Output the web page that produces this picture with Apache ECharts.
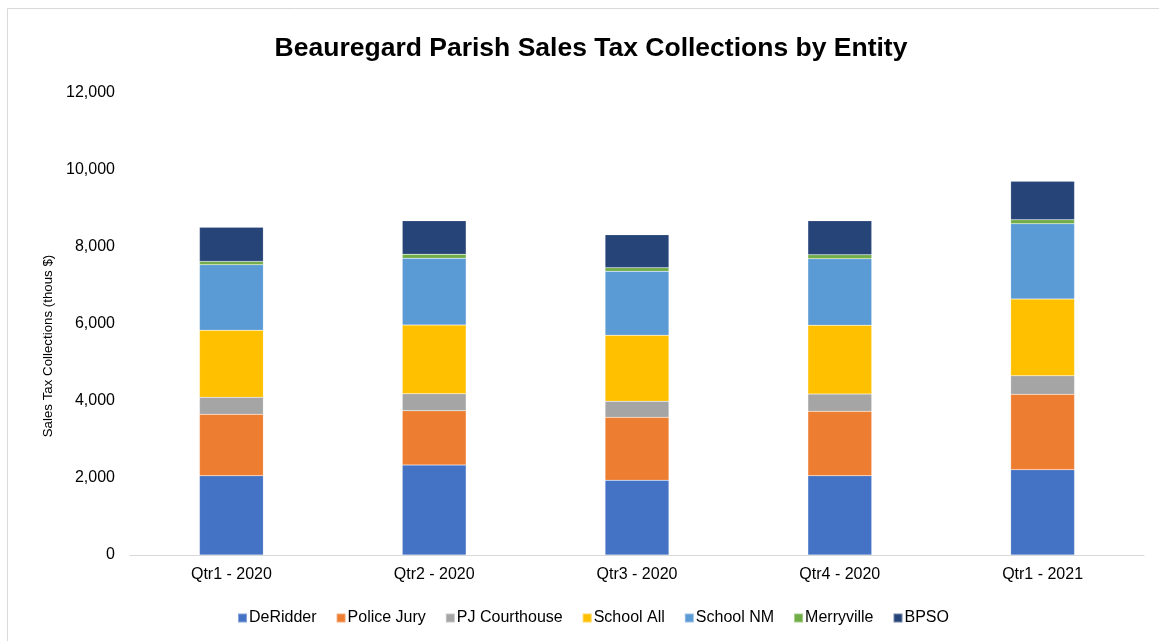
<!DOCTYPE html>
<html><head><meta charset="utf-8">
<script src="https://cdn.jsdelivr.net/npm/echarts@6/dist/echarts.min.js"></script>
<style>html,body{margin:0;padding:0;background:#fff}#c{width:1159px;height:641px}</style>
</head><body><div id="c"></div>
<script>
const categories = ['Qtr1 - 2020','Qtr2 - 2020','Qtr3 - 2020','Qtr4 - 2020','Qtr1 - 2021'];
const deRidder     = [2060, 2338, 1940, 2060, 2216];
const policeJury   = [1594, 1411, 1636, 1672, 1958];
const pjCourthouse = [442, 441, 416, 450, 483];
const schoolAll    = [1740, 1784, 1714, 1784, 1992];
const schoolNM     = [1705, 1732, 1662, 1731, 1956];
const merryville   = [85, 104, 95, 103, 104];
const bpso         = [886, 874, 857, 884, 997];
const yTicks = [0, 2000, 4000, 6000, 8000, 10000, 12000];
const yTitle = 'Sales Tax Collections (thous $)';

const seriesDefs = [
  ['DeRidder', deRidder, '#4472C4'],
  ['Police Jury', policeJury, '#ED7D31'],
  ['PJ Courthouse', pjCourthouse, '#A5A5A5'],
  ['School All', schoolAll, '#FFC000'],
  ['School NM', schoolNM, '#5B9BD5'],
  ['Merryville', merryville, '#70AD47'],
  ['BPSO', bpso, '#264478']
];
const font = 'Liberation Sans, Arial, sans-serif';
const chart = echarts.init(document.getElementById('c'));
chart.setOption({
  animation: false,
  textStyle: {fontFamily: font},
  title: {text: 'Beauregard Parish Sales Tax Collections by Entity', left: 586, textAlign: 'center', top: 30,
    textStyle: {fontFamily: font, fontSize: 26.5, fontWeight: 'bold', color: '#000'}},
  graphic: [
    {type: 'rect', shape: {x: 7.5, y: 8.5, width: 1160, height: 640}, style: {fill: 'none', stroke: '#d9d9d9', lineWidth: 1}, silent: true},
    {type: 'text', x: 48, y: 346, rotation: Math.PI / 2, style: {text: yTitle, fill: '#000', font: '13.3px ' + font, align: 'center', verticalAlign: 'middle'}, silent: true}
  ],
  legend: {bottom: 10, left: 232, icon: 'rect', itemWidth: 9, itemHeight: 9, itemGap: 19,
    textStyle: {fontFamily: font, fontSize: 16, color: '#000', padding: [0, 0, 0, -3]},
    data: seriesDefs.map(s => s[0])},
  grid: {left: 130, right: 15, top: 93, bottom: 86, containLabel: false},
  xAxis: {type: 'category', data: categories,
    axisLine: {lineStyle: {color: '#d9d9d9', width: 1}}, axisTick: {show: false},
    axisLabel: {color: '#000', fontSize: 16, fontFamily: font, margin: 12}},
  yAxis: {type: 'value', min: 0, max: 12000, interval: 2000,
    axisLine: {show: false}, axisTick: {show: false}, splitLine: {show: false},
    axisLabel: {color: '#000', fontSize: 16, fontFamily: font, margin: 15,
      formatter: v => yTicks.includes(v) ? v.toLocaleString('en-US') : ''}},
  series: seriesDefs.map(s => ({name: s[0], type: 'bar', stack: 'total', data: s[1], barWidth: '31.5%',
    itemStyle: {color: s[2], borderColor: 'rgba(255,255,255,0.35)', borderWidth: 0.5}}))
});
</script></body></html>
